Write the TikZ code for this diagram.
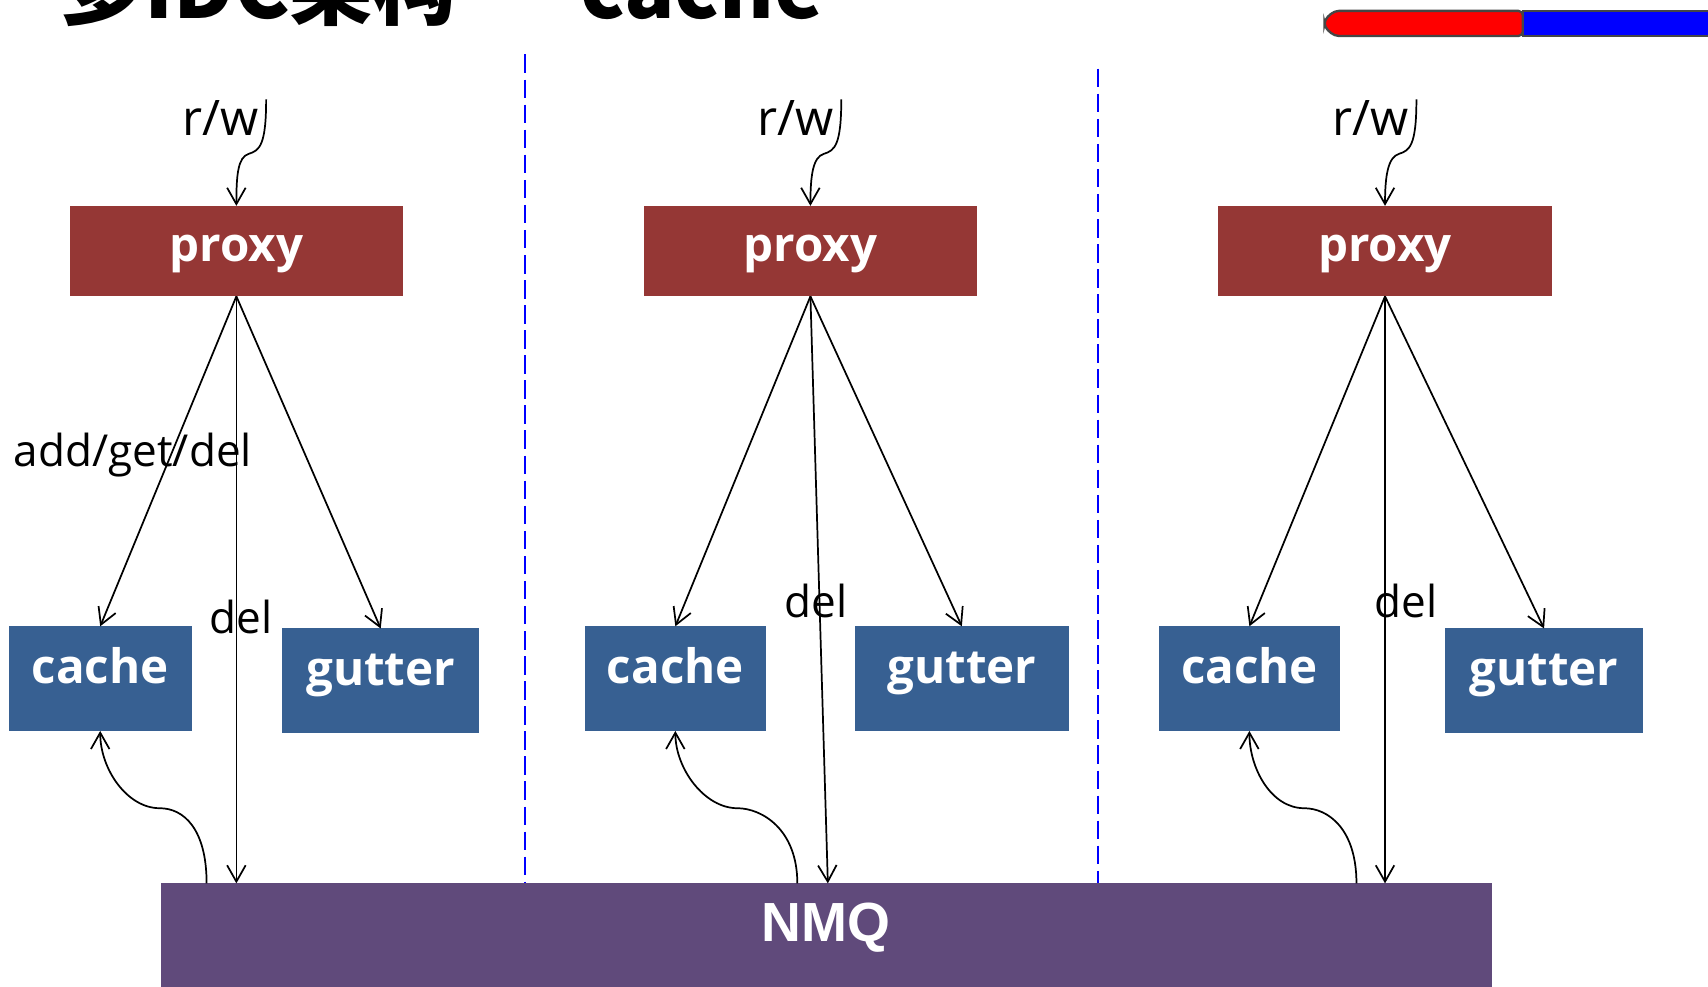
\documentclass[tikz,border=0pt]{standalone}
\usepackage{fontspec}
\setmainfont{Open Sans}
\newfontfamily\cjk{Noto Sans CJK SC}
\newfontfamily\arialfont{Liberation Sans}
\usepackage{tikz}
\usetikzlibrary{arrows.meta, positioning, calc}

\definecolor{proxyred}{RGB}{149,55,53}
\definecolor{cacheblue}{RGB}{55,96,146}
\definecolor{nmqpurple}{RGB}{96,74,123}
\definecolor{barline}{RGB}{70,70,70}

\begin{document}
\begin{tikzpicture}[
  x=0.01cm, y=-0.01cm,
  box/.style={
    inner sep=0pt,
    outer sep=0pt,
    text=white,
    font=\bfseries\fontsize{12.4}{14}\selectfont,
    text centered
  },
  proxybox/.style={
    box,
    fill=proxyred,
    minimum width=30.6mm,
    minimum height=8.3mm,
    text height=3mm,
    text depth=1mm
  },
  cachebox/.style={
    box,
    fill=cacheblue,
    minimum height=9.6mm,
    text height=2.5mm,
    text depth=1.6mm
  },
  lbl/.style={
    inner sep=0pt,
    font=\fontsize{11.5}{13}\selectfont
  },
  rwlbl/.style={
    lbl,
    anchor=west,
    font=\fontsize{12.8}{14}\selectfont
  },
  arr/.style={
    -{Straight Barb[length=1.5mm,width=1.7mm]},
    line width=0.45pt
  },
  sep/.style={
    blue,
    dash pattern=on 1.7mm off 0.6mm,
    line width=0.5pt
  }
]

\clip (0,0) rectangle (1568,906);

% Title (cut off at the top)
\node [anchor=base west, inner sep=0pt, font=\cjk\bfseries\fontsize{21.8}{24}\selectfont] (title) at (55,17) {多IDC架构 \hspace{0.4mm}—\hspace{0.4mm} cache};

% Progress bar
\filldraw [fill=red, draw=barline, line width=0.6pt, rounded corners=0.4mm] (1398,10) -- (1225,10) -- (1216,18) -- (1216,25) -- (1225,33) -- (1398,33) -- cycle;
\filldraw [fill=blue, draw=barline, line width=0.6pt] (1398,10) rectangle (1580,33);

% Separators
\draw [sep] (482,50) -- (482,811);
\draw [sep] (1008,63) -- (1008,811);

% Boxes
\node [proxybox] (proxy1) at (217,230.5) {proxy};
\node [proxybox] (proxy2) at (744,230.5) {proxy};
\node [proxybox, minimum width=30.7mm] (proxy3) at (1271.5,230.5) {proxy};

\node [cachebox, minimum width=16.8mm] (cache1) at (92,623) {cache};
\node [cachebox, minimum width=18.1mm] (gutter1) at (349.5,625) {gutter};
\node [cachebox, minimum width=16.6mm] (cache2) at (620,623) {cache};
\node [cachebox, minimum width=19.6mm] (gutter2) at (883,623) {gutter};
\node [cachebox, minimum width=16.6mm] (cache3) at (1147,623) {cache};
\node [cachebox, minimum width=18.1mm] (gutter3) at (1417.5,625) {gutter};

\node [box, fill=nmqpurple, minimum width=122.1mm, minimum height=9.5mm,
       font=\arialfont\bfseries\fontsize{14.4}{16}\selectfont,
       text height=2.5mm, text depth=1.4mm] (nmq) at (758.5,858.5) {NMQ};

% Labels
\node [rwlbl] (rw1) at (167,108) {r/w};
\node [rwlbl] (rw2) at (695,108) {r/w};
\node [rwlbl] (rw3) at (1223,108) {r/w};
\node [lbl, anchor=west] (agd) at (12,418) {add/get/del};
\node [lbl] (del1) at (221,566) {del};
\node [lbl] (del2) at (749,552) {del};
\node [lbl] (del3) at (1291,552) {del};

% Points on the NMQ bar
\coordinate (up1) at ([xshift=4.2mm]nmq.north west);
\coordinate (up2) at ([xshift=58.4mm]nmq.north west);
\coordinate (up3) at ([xshift=109.7mm]nmq.north west);
\coordinate (dn2) at ([xshift=61.2mm]nmq.north west);

% r/w into proxies
\draw [arr] ([xshift=0.6mm]rw1.north east) .. controls +(0,42) and +(10,-3) .. +(-16,50)
  .. controls +(-10,3) and +(0,-28) .. (proxy1.north);
\draw [arr] ([xshift=0.6mm]rw2.north east) .. controls +(0,42) and +(10,-3) .. +(-16,50)
  .. controls +(-10,3) and +(0,-28) .. (proxy2.north);
\draw [arr] ([xshift=0.6mm]rw3.north east) .. controls +(0,42) and +(10,-3) .. +(-16,50)
  .. controls +(-10,3) and +(0,-28) .. (proxy3.north);

% proxy to cache, gutter and NMQ
\draw [arr] (proxy1.south) -- (cache1.north);
\draw [arr] (proxy1.south) -- (gutter1.north);
\draw [arr] (proxy1.south) -- (proxy1.south |- nmq.north);

\draw [arr] (proxy2.south) -- (cache2.north);
\draw [arr] (proxy2.south) -- (gutter2.north);
\draw [arr] (proxy2.south) -- (dn2);

\draw [arr] (proxy3.south) -- (cache3.north);
\draw [arr] (proxy3.south) -- (gutter3.north);
\draw [arr] (proxy3.south) -- (proxy3.south |- nmq.north);

% NMQ back to cache
\draw [arr] (up1) .. controls +(0,-50) and +(22,0) .. +(-43,-69)
  .. controls +(-30,0) and +(0,35) .. (cache1.south);
\draw [arr] (up2) .. controls +(0,-50) and +(22,0) .. +(-55,-69)
  .. controls +(-30,0) and +(0,35) .. (cache2.south);
\draw [arr] (up3) .. controls +(0,-50) and +(22,0) .. +(-48,-69)
  .. controls +(-30,0) and +(0,35) .. (cache3.south);

\end{tikzpicture}
\end{document}
